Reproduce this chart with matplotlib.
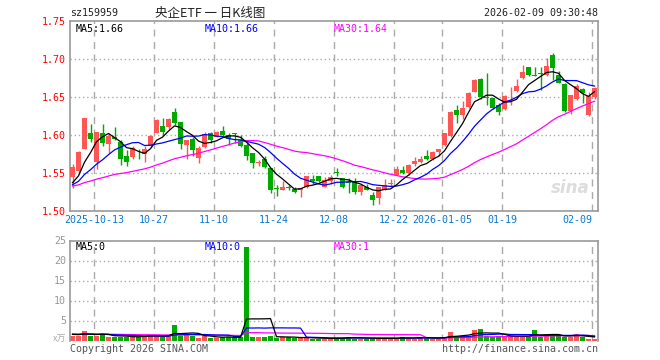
import numpy as np
import pandas as pd
import matplotlib.pyplot as plt

plt.rcParams['font.family'] = ['DejaVu Sans Mono', 'Noto Sans CJK SC']

# OHLC (88 séances, 2025-09-29 -> 2026-02-09)
opens = [1.545, 1.552, 1.582, 1.602, 1.565, 1.603, 1.588, 1.597, 1.591, 1.572,
         1.571, 1.582, 1.575, 1.585, 1.603, 1.612, 1.611, 1.630, 1.617, 1.587,
         1.595, 1.570, 1.584, 1.602, 1.598, 1.605, 1.600, 1.602, 1.593, 1.587,
         1.576, 1.563, 1.568, 1.557, 1.530, 1.528, 1.531, 1.529, 1.528, 1.531,
         1.542, 1.546, 1.532, 1.539, 1.551, 1.543, 1.538, 1.539, 1.525, 1.531,
         1.521, 1.517, 1.528, 1.536, 1.547, 1.554, 1.550, 1.562, 1.564, 1.572,
         1.568, 1.578, 1.587, 1.599, 1.633, 1.626, 1.637, 1.657, 1.674, 1.650,
         1.649, 1.640, 1.634, 1.652, 1.658, 1.675, 1.689, 1.679, 1.681, 1.679,
         1.705, 1.679, 1.667, 1.632, 1.647, 1.660, 1.626, 1.650]
highs = [1.562, 1.579, 1.622, 1.614, 1.604, 1.615, 1.601, 1.610, 1.594, 1.580,
         1.585, 1.582, 1.585, 1.600, 1.621, 1.623, 1.622, 1.635, 1.617, 1.594,
         1.598, 1.585, 1.604, 1.604, 1.605, 1.612, 1.602, 1.603, 1.600, 1.589,
         1.576, 1.567, 1.572, 1.557, 1.534, 1.540, 1.534, 1.532, 1.530, 1.546,
         1.547, 1.546, 1.545, 1.547, 1.556, 1.544, 1.543, 1.544, 1.536, 1.535,
         1.525, 1.532, 1.542, 1.542, 1.559, 1.559, 1.562, 1.571, 1.573, 1.580,
         1.579, 1.581, 1.603, 1.631, 1.639, 1.645, 1.656, 1.674, 1.675, 1.681,
         1.649, 1.642, 1.652, 1.663, 1.674, 1.692, 1.690, 1.690, 1.690, 1.701,
         1.708, 1.684, 1.668, 1.652, 1.667, 1.662, 1.657, 1.663]
lows = [1.530, 1.550, 1.581, 1.591, 1.555, 1.585, 1.576, 1.593, 1.561, 1.559,
        1.568, 1.569, 1.564, 1.584, 1.602, 1.600, 1.608, 1.613, 1.582, 1.569,
        1.573, 1.563, 1.583, 1.590, 1.597, 1.598, 1.587, 1.590, 1.584, 1.567,
        1.556, 1.559, 1.557, 1.524, 1.520, 1.527, 1.527, 1.524, 1.519, 1.530,
        1.535, 1.538, 1.531, 1.536, 1.546, 1.530, 1.524, 1.523, 1.521, 1.527,
        1.508, 1.509, 1.528, 1.532, 1.547, 1.549, 1.548, 1.559, 1.563, 1.567,
        1.567, 1.573, 1.586, 1.598, 1.616, 1.621, 1.636, 1.656, 1.648, 1.640,
        1.634, 1.626, 1.633, 1.640, 1.656, 1.674, 1.678, 1.677, 1.659, 1.678,
        1.672, 1.668, 1.630, 1.627, 1.646, 1.642, 1.625, 1.648]
closes = [1.558, 1.577, 1.622, 1.595, 1.604, 1.590, 1.599, 1.595, 1.568, 1.565,
          1.583, 1.581, 1.582, 1.599, 1.620, 1.604, 1.621, 1.616, 1.588, 1.593,
          1.580, 1.583, 1.601, 1.594, 1.604, 1.600, 1.595, 1.601, 1.585, 1.572,
          1.563, 1.564, 1.558, 1.528, 1.529, 1.532, 1.530, 1.525, 1.530, 1.546,
          1.539, 1.540, 1.541, 1.545, 1.550, 1.532, 1.537, 1.525, 1.534, 1.528,
          1.515, 1.531, 1.534, 1.537, 1.555, 1.550, 1.560, 1.566, 1.568, 1.568,
          1.577, 1.581, 1.602, 1.630, 1.626, 1.636, 1.655, 1.672, 1.650, 1.649,
          1.636, 1.630, 1.651, 1.653, 1.665, 1.683, 1.679, 1.678, 1.680, 1.691,
          1.688, 1.669, 1.631, 1.652, 1.665, 1.655, 1.651, 1.662]
# volume en 万
volumes = [1.25, 1.25, 2.5, 1.25, 1.25, 1.67, 1.0, 0.83, 1.0, 1.0,
           1.0, 0.8, 1.25, 1.5, 1.25, 0.8, 1.25, 4.0, 1.25, 1.7,
           1.25, 0.7, 1.25, 0.7, 0.7, 0.8, 1.0, 0.7, 1.0, 23.3,
           1.0, 1.0, 0.8, 1.25, 0.7, 0.8, 0.8, 0.7, 0.7, 0.7,
           0.5, 0.5, 0.5, 0.5, 0.7, 0.7, 1.0, 0.5, 0.5, 0.5,
           0.5, 0.7, 0.5, 0.5, 0.5, 1.0, 0.7, 0.5, 0.8, 0.7,
           0.5, 0.5, 1.0, 2.25, 1.0, 1.25, 1.25, 2.75, 3.0, 1.25,
           1.0, 1.25, 1.25, 1.0, 1.0, 1.0, 1.25, 2.75, 1.0, 1.25,
           1.25, 1.25, 1.0, 1.0, 1.67, 1.0, 0.5, 0.3]
# niveau estimé avant la fenêtre (pour amorcer les moyennes mobiles)
prior_close = 1.532
prior_vol = 1.6

tick_idx = [4, 14, 24, 34, 44, 54, 62, 72, 87]
tick_labels = ['2025-10-13', '10-27', '11-10', '11-24', '12-08', '12-22',
               '2026-01-05', '01-19', '02-09']

RED = '#ff5555'
GREEN = '#00aa00'
GRID = '#aaaaaa'
BLUE_TXT = '#0a78d2'

n = len(closes)
x = np.arange(n)
o = np.array(opens); c = np.array(closes)
up = c >= o
colors = np.where(up, RED, GREEN)

cs = pd.Series([prior_close] * 29 + closes)
ma5 = cs.rolling(5).mean().iloc[29:].values
ma10 = cs.rolling(10).mean().iloc[29:].values
ma30 = cs.rolling(30).mean().iloc[29:].values
vs = pd.Series([prior_vol] * 29 + volumes)
vma5 = vs.rolling(5).mean().iloc[29:].values
vma10 = vs.rolling(10).mean().iloc[29:].values
vma30 = vs.rolling(30).mean().iloc[29:].values

W, H = 660, 360
fig = plt.figure(figsize=(6.6, 3.6), dpi=100)
ax = fig.add_axes([70 / W, 1 - 211 / H, 528 / W, 190 / H])
axv = fig.add_axes([70 / W, 1 - 340.5 / H, 528 / W, 100 / H])

xlim = (-0.42, n - 0.42)
vline_x = [i - 0.4 for i in tick_idx]

# --- bougies ---
for v in vline_x:
    ax.axvline(v, color=GRID, lw=1, ls=(0, (5, 4)), zorder=0)
for yv in [1.55, 1.60, 1.65, 1.70]:
    ax.axhline(yv, color=GRID, lw=1, ls=(0, (1, 2)), zorder=0)
ax.vlines(x, lows, highs, colors=colors, lw=1, zorder=2)
body_bot = np.minimum(o, c)
body_h = np.maximum(np.abs(c - o), 0.0006)
ax.bar(x, body_h, bottom=body_bot, width=0.8, color=colors, zorder=3)
ax.plot(x, ma30, color='#ff00ff', lw=0.9, zorder=4)
ax.plot(x, ma10, color='#0000ff', lw=0.9, zorder=4)
ax.plot(x, ma5, color='black', lw=0.9, zorder=4)
ax.set_xlim(*xlim)
ax.set_ylim(1.50, 1.75)
ax.set_yticks([1.50, 1.55, 1.60, 1.65, 1.70, 1.75])
ax.set_yticklabels(['1.50', '1.55', '1.60', '1.65', '1.70', '1.75'],
                   color='#ff0000', fontsize=7.2)
ax.set_xticks(vline_x)
ax.set_xticklabels(tick_labels, color=BLUE_TXT, fontsize=7.2)
ax.get_xticklabels()[-1].set_ha('right')
ax.get_xticklabels()[-1].set_x(vline_x[-1] + 0.3)
ax.tick_params(length=0, pad=3)
ax.text(0.01, 0.985, 'MA5:1.66', transform=ax.transAxes, va='top', fontsize=7.2, color='black')
ax.text(0.255, 0.985, 'MA10:1.66', transform=ax.transAxes, va='top', fontsize=7.2, color='#0000ff')
ax.text(0.50, 0.985, 'MA30:1.64', transform=ax.transAxes, va='top', fontsize=7.2, color='#ff00ff')
ax.text(0.985, 0.12, 'sina', transform=ax.transAxes, ha='right', va='center', fontsize=12,
        color='#dddddd', style='italic', weight='bold', family='DejaVu Sans', zorder=1)

# --- volume ---
for v in vline_x:
    axv.axvline(v, color=GRID, lw=1, ls=(0, (5, 4)), zorder=0)
for yv in [5, 10, 15, 20]:
    axv.axhline(yv, color=GRID, lw=1, ls=(0, (1, 2)), zorder=0)
axv.bar(x, volumes, width=0.8, color=colors, zorder=2)
axv.plot(x, vma30, color='#ff00ff', lw=0.9, zorder=3)
axv.plot(x, vma10, color='#0000ff', lw=0.9, zorder=3)
axv.plot(x, vma5, color='black', lw=0.9, zorder=3)
axv.set_xlim(*xlim)
axv.set_ylim(0, 25)
axv.set_yticks([5, 10, 15, 20, 25])
axv.set_yticklabels(['5', '10', '15', '20', '25'], color='#999999', fontsize=7.2)
axv.set_xticks([])
axv.tick_params(length=0, pad=3)
axv.text(0.01, 0.985, 'MA5:0', transform=axv.transAxes, va='top', fontsize=7.2, color='black')
axv.text(0.255, 0.985, 'MA10:0', transform=axv.transAxes, va='top', fontsize=7.2, color='#0000ff')
axv.text(0.50, 0.985, 'MA30:1', transform=axv.transAxes, va='top', fontsize=7.2, color='#ff00ff')
axv.spines['bottom'].set_visible(False)

for a in (ax, axv):
    for s in a.spines.values():
        s.set_color('#999999')
        s.set_linewidth(1.2)

# --- textes autour ---
fig.text(70 / W, 1 - 13 / H, 'sz159959', fontsize=7.2, va='center', color='#222222')
fig.text(210 / W, 1 - 13 / H, '央企ETF 一 日K线图', fontsize=9, va='center', ha='center',
         color='#222222', family=['Noto Sans CJK SC', 'DejaVu Sans'])
fig.text(598 / W, 1 - 13 / H, '2026-02-09 09:30:48', fontsize=7.2, va='center', ha='right',
         color='#222222')
fig.text(66 / W, 1 - 339 / H, 'x万', fontsize=6.5, va='center', ha='right', color='#aaaaaa',
         family=['Noto Sans CJK SC', 'DejaVu Sans'])
fig.text(70 / W, 1 - 349 / H, 'Copyright 2026 SINA.COM', fontsize=7.2, va='center', color='#555555')
fig.text(598 / W, 1 - 349 / H, 'http://finance.sina.com.cn', fontsize=7.2, va='center', ha='right',
         color='#555555')

fig.savefig('out.png', dpi=100)
